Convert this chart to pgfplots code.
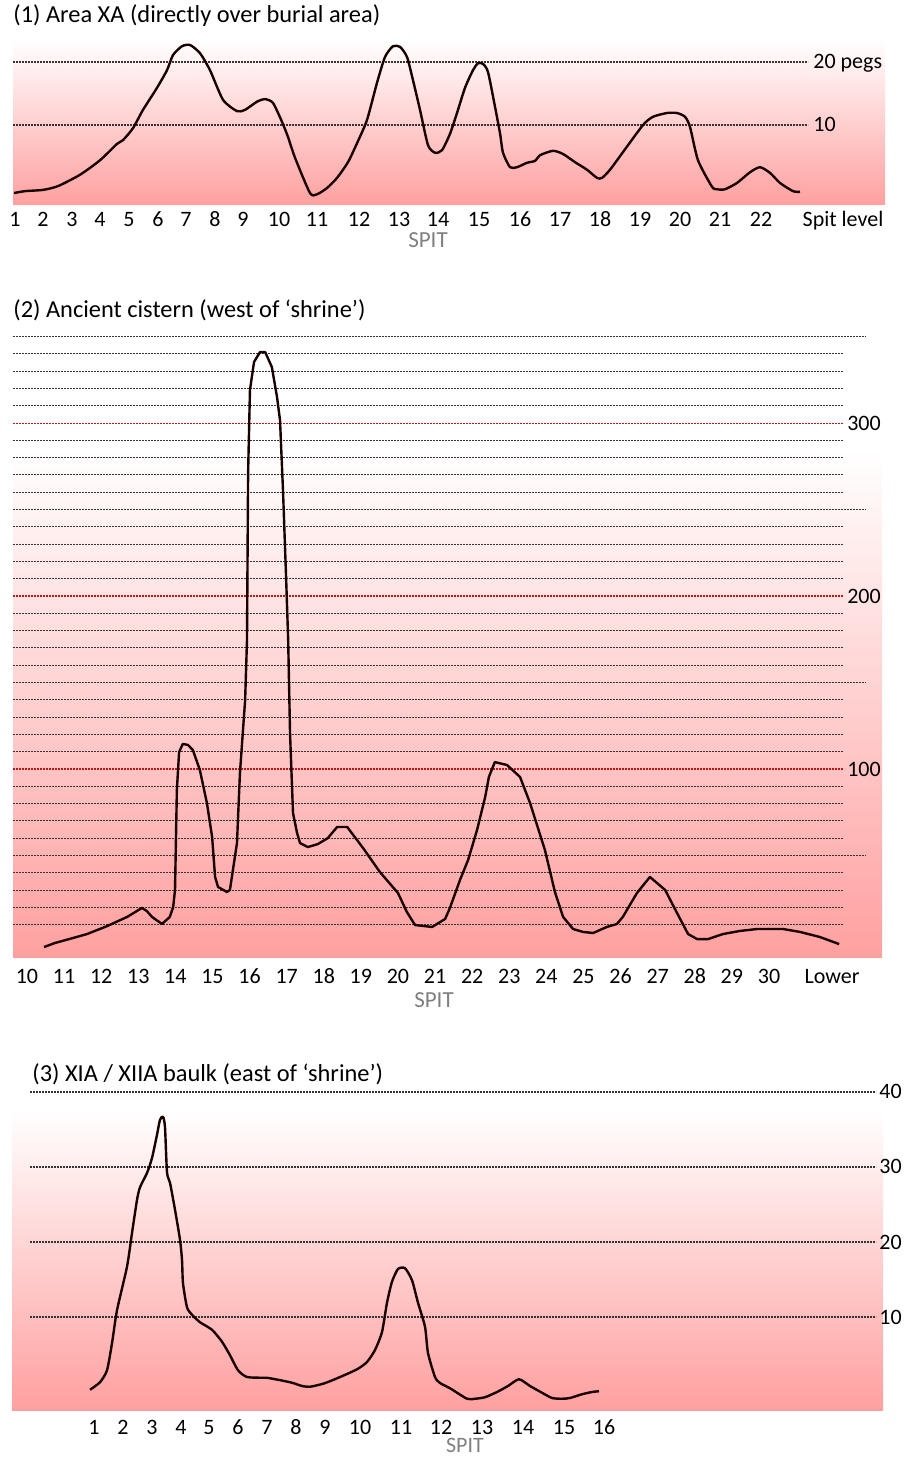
\documentclass[border=0pt]{standalone}
\usepackage{pgfplots}
\pgfplotsset{compat=1.18}
\usepackage{fontspec}
\setmainfont{Carlito}

\definecolor{pinkbot}{RGB}{255,160,160}
\definecolor{curve}{RGB}{25,0,0}
\definecolor{gridred}{RGB}{190,20,20}
\definecolor{spitgray}{RGB}{128,128,128}

\newcommand{\titlefont}{\fontsize{12.2}{14}\selectfont}
\newcommand{\labfont}{\fontsize{11}{13}\selectfont}

\tikzset{
  dotgrid/.style={line width=0.55pt, dash pattern=on 0.9pt off 0.6pt, black!80},
  curveline/.style={line width=1.2pt, color=curve, line join=round},
  lab/.style={anchor=base west, inner sep=0pt, yshift=-3.5pt, font=\labfont},
  spit/.style={anchor=base, inner sep=0pt, text=spitgray, font=\fontsize{11.5}{13}\selectfont},
}
\pgfplotsset{
  panel/.style={
    scale only axis, clip=false,
    axis line style={draw=none}, tick style={draw=none},
    ytick=\empty,
    xticklabel style={anchor=base, inner sep=0pt, yshift=-11pt, font=\labfont},
  },
}

\begin{document}
\begin{tikzpicture}
\useasboundingbox (0,0) rectangle (452.5pt,729pt);

% ---------- (1) Area XA ----------
\node[anchor=base west, inner sep=0pt, font=\titlefont] at (6.5pt,717.5pt) {(1) Area XA (directly over burial area)};
\begin{axis}[panel, at={(6.5pt,626.5pt)}, anchor=south west,
  width=436pt, height=82.5pt,
  xmin=13, xmax=885, ymin=-2.698, ymax=23.492,
  xtick={15,43,72,100,129,158,186,215,243,279,317,359,399,438,479,520,560,600,640,680,720,761,843},
  xticklabels={1,2,3,4,5,6,7,8,9,10,11,12,13,14,15,16,17,18,19,20,21,22,Spit level},
]
\fill[top color=white, bottom color=pinkbot] (axis cs:13,-2.698) rectangle (axis cs:885,23.492);
\draw[dotgrid] (axis cs:13,20) -- (axis cs:808,20);
\draw[dotgrid] (axis cs:13,10) -- (axis cs:808,10);
\node[lab] at (axis cs:813,20) {20 pegs};
\node[lab] at (axis cs:813,10) {10};
\addplot[curveline, smooth, tension=0.4] table {
x y
14 -0.8
25 -0.5
43 -0.3
58 0.3
80 2.1
100 4.4
117 7.0
123 7.6
133 9.5
143 12.4
157 15.9
167 18.7
173 21.1
182 22.5
190 22.7
200 21.4
210 18.7
223 14.0
237 12.2
245 12.4
257 13.7
265 14.1
273 13.5
282 10.5
288 8.1
295 4.8
310 -0.8
317 -1.0
327 0.0
337 1.6
348 4.1
357 7.1
367 10.8
377 16.7
385 20.8
393 22.5
400 22.4
407 20.8
413 17.1
420 12.4
428 6.8
435 5.6
442 6.0
450 8.6
457 11.9
465 15.9
473 18.7
478 19.8
483 19.7
488 18.4
495 12.9
500 8.7
503 5.6
510 3.3
517 3.3
527 4.0
535 4.3
540 5.2
553 5.9
563 5.4
575 4.1
587 2.9
597 1.6
602 1.6
610 2.9
623 5.7
643 10.0
653 11.3
667 11.9
677 11.9
685 11.3
690 9.7
698 4.4
712 0.2
717 -0.2
725 -0.2
737 0.8
750 2.5
760 3.3
770 2.4
780 0.8
793 -0.5
800 -0.6
};
\end{axis}
\node[spit] at (214pt,605pt) {SPIT};

% ---------- (2) Ancient cistern ----------
\node[anchor=base west, inner sep=0pt, font=\titlefont] at (6.5pt,570pt) {(2) Ancient cistern (west of ‘shrine’)};
\begin{axis}[panel, at={(6.5pt,250pt)}, anchor=south west,
  width=434.5pt, height=314pt,
  xmin=9.623, xmax=33.046, ymin=-9.25, ymax=353.8,
  xticklabel style={yshift=-2pt},
  xtick={10,11,12,13,14,15,16,17,18,19,20,21,22,23,24,25,26,27,28,29,30,31.7},
  xticklabels={10,11,12,13,14,15,16,17,18,19,20,21,22,23,24,25,26,27,28,29,30,Lower},
]
\fill[top color=white, bottom color=pinkbot] (axis cs:9.623,-9.25) rectangle (axis cs:33.046,284.4);
\pgfplotsinvokeforeach{10,20,...,350}{\draw[dotgrid] (axis cs:9.623,#1) -- (axis cs:32.02,#1);}
\pgfplotsinvokeforeach{50,150,250,350}{\draw[dotgrid] (axis cs:9.623,#1) -- (axis cs:32.59,#1);}
\pgfplotsinvokeforeach{100,200,300}{\draw[dotgrid, draw=gridred] (axis cs:9.623,#1) -- (axis cs:32.02,#1);}
\pgfplotsinvokeforeach{100,200,300}{\node[lab] at (axis cs:32.10,#1) {#1};}
\addplot[curveline] table {
x y
10.46 -2.9
10.75 -0.6
11.24 2.3
11.62 4.6
12.16 9.2
12.70 14.5
13.10 19.7
13.23 17.9
13.37 14.5
13.64 10.4
13.85 14.5
13.94 20.2
13.99 30.1
14.04 87.9
14.10 109.8
14.20 114.5
14.34 113.9
14.47 111.0
14.66 99.4
14.85 80.3
14.99 60.7
15.07 37.6
15.15 31.8
15.39 28.9
15.47 30.1
15.66 57.2
15.74 97.7
15.88 139.9
15.93 174.6
15.96 271.1
16.01 319.1
16.12 335.3
16.28 341.0
16.42 341.0
16.60 332.4
16.74 315.0
16.82 301.7
16.90 261.3
16.98 213.3
17.04 174.6
17.09 120.8
17.17 74.6
17.28 63.0
17.36 57.2
17.57 54.9
17.84 56.6
18.11 60.1
18.36 66.5
18.63 66.5
19.06 54.3
19.51 40.5
20.00 28.3
20.24 17.3
20.46 9.8
20.92 8.7
21.27 13.3
21.40 19.7
21.67 35.8
21.89 47.4
22.13 64.7
22.35 83.8
22.45 95.4
22.61 104.0
22.94 102.3
23.29 95.4
23.56 80.3
23.96 53.2
24.23 28.9
24.45 14.5
24.72 7.5
24.99 5.8
25.26 5.2
25.63 8.7
25.90 10.4
26.06 14.5
26.44 28.3
26.79 37.6
27.20 30.1
27.52 16.8
27.82 4.6
28.06 1.7
28.36 1.7
28.76 4.6
29.22 6.4
29.68 7.5
30.03 7.5
30.38 7.5
30.84 5.8
31.37 2.9
31.89 -1.2
};
\end{axis}
\node[spit] at (217pt,225pt) {SPIT};

% ---------- (3) XIA / XIIA baulk ----------
\node[anchor=base west, inner sep=0pt, font=\titlefont] at (16pt,188pt) {(3) XIA / XIIA baulk (east of ‘shrine’)};
\begin{axis}[panel, at={(6pt,24pt)}, anchor=south west,
  width=435.5pt, height=162.5pt,
  xmin=12, xmax=883, ymin=-2.4, ymax=40.933,
  xticklabel style={yshift=-1pt},
  xtick={94,123,152,181,209,238,267,296,325,360,401,441,482,523,564,604},
  xticklabels={1,2,3,4,5,6,7,8,9,10,11,12,13,14,15,16},
]
\fill[top color=white, bottom color=pinkbot] (axis cs:12,-2.4) rectangle (axis cs:883,37.6);
\pgfplotsinvokeforeach{10,20,30,40}{\draw[dotgrid] (axis cs:30,#1) -- (axis cs:876,#1);}
\pgfplotsinvokeforeach{10,20,30,40}{\node[lab] at (axis cs:879,#1) {#1};}
\addplot[curveline, smooth, tension=0.4] table {
x y
90 0.3
100 1.3
107 2.9
112 6.5
117 10.9
127 16.7
132 21.2
137 25.6
140 27.3
147 29.2
152 31.2
157 34.3
160 36.3
163 36.7
165 35.3
167 29.3
170 27.9
175 24.3
180 20.3
182 17.6
183 14.5
187 11.3
192 10.3
200 9.3
212 8.3
222 6.7
230 4.9
238 2.9
247 2.0
263 1.9
267 1.9
283 1.5
293 1.2
302 0.8
310 0.7
323 1.1
333 1.6
347 2.4
358 3.1
367 4.0
375 5.6
382 8.0
387 11.9
392 14.7
398 16.4
405 16.5
412 14.9
418 11.9
425 8.7
428 5.2
435 2.0
440 1.2
450 0.5
467 -0.9
475 -0.9
485 -0.7
497 0.0
508 0.8
519 1.7
530 0.8
542 -0.1
552 -0.8
562 -0.9
570 -0.8
582 -0.3
592 0.0
599 0.1
};
\end{axis}
\node[spit, font=\fontsize{11}{13}\selectfont] at (232.5pt,2.5pt) {SPIT};
\end{tikzpicture}
\end{document}
